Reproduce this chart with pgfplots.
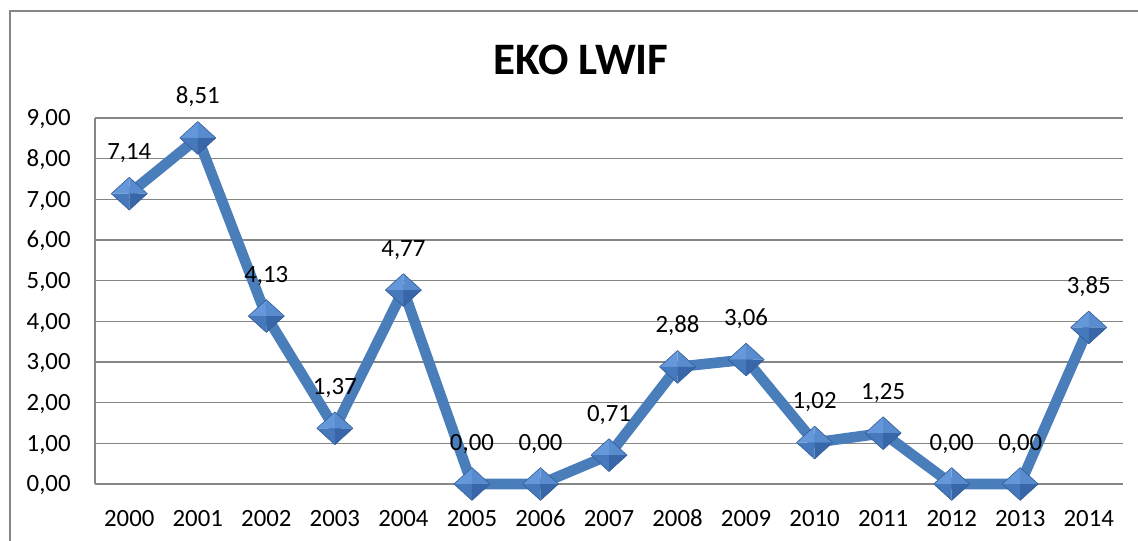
\documentclass[border=0pt]{standalone}
\usepackage{pgfplots}
\pgfplotsset{compat=1.18}
\usepackage{fontspec}
\setmainfont{Carlito}
\definecolor{lineblue}{RGB}{74,126,187}
\definecolor{gridgray}{RGB}{134,134,134}
\definecolor{facetTL}{RGB}{100,152,218}
\definecolor{facetTR}{RGB}{88,140,206}
\definecolor{facetBL}{RGB}{70,120,188}
\definecolor{facetBR}{RGB}{56,102,168}
\definecolor{edgeblue}{RGB}{50,92,150}
\pgfdeclareplotmark{bevdiamond}{%
  \pgfsetlinewidth{0.3pt}%
  \pgfpathmoveto{\pgfpointorigin}\pgfpathlineto{\pgfqpoint{-9pt}{0pt}}\pgfpathlineto{\pgfqpoint{0pt}{8.2pt}}\pgfpathclose
  \pgfsetfillcolor{facetTL}\pgfusepath{fill}%
  \pgfpathmoveto{\pgfpointorigin}\pgfpathlineto{\pgfqpoint{0pt}{8.2pt}}\pgfpathlineto{\pgfqpoint{9pt}{0pt}}\pgfpathclose
  \pgfsetfillcolor{facetTR}\pgfusepath{fill}%
  \pgfpathmoveto{\pgfpointorigin}\pgfpathlineto{\pgfqpoint{-9pt}{0pt}}\pgfpathlineto{\pgfqpoint{0pt}{-8.2pt}}\pgfpathclose
  \pgfsetfillcolor{facetBL}\pgfusepath{fill}%
  \pgfpathmoveto{\pgfpointorigin}\pgfpathlineto{\pgfqpoint{0pt}{-8.2pt}}\pgfpathlineto{\pgfqpoint{9pt}{0pt}}\pgfpathclose
  \pgfsetfillcolor{facetBR}\pgfusepath{fill}%
  \pgfpathmoveto{\pgfqpoint{-9pt}{0pt}}\pgfpathlineto{\pgfqpoint{0pt}{8.2pt}}\pgfpathlineto{\pgfqpoint{9pt}{0pt}}\pgfpathlineto{\pgfqpoint{0pt}{-8.2pt}}\pgfpathclose
  \pgfsetstrokecolor{edgeblue}\pgfusepath{stroke}%
}
\begin{document}
\begin{tikzpicture}
\useasboundingbox (0,0) rectangle (569pt,-270pt);
\draw[color=gridgray, line width=1pt] (5pt,-280pt) -- (5pt,-5.5pt) -- (580pt,-5.5pt);
\node[anchor=base, font=\fontsize{22.5}{27}\selectfont\bfseries] at (290.5pt,-37.5pt) {EKO LWIF};
\begin{axis}[
  at={(47.5pt,-242pt)}, anchor=south west,
  scale only axis, width=514pt, height=183pt,
  xmin=-0.5, xmax=14.5, ymin=0, ymax=9,
  xtick={0,...,14},
  xticklabels={2000,2001,2002,2003,2004,2005,2006,2007,2008,2009,2010,2011,2012,2013,2014},
  ytick={0,...,9},
  major tick length=0pt,
  axis lines*=left,
  axis line style={-, draw=gridgray, line width=0.6pt},
  ymajorgrids,
  major grid style={draw=gridgray, line width=0.6pt},
  /pgf/number format/assume math mode=true,
  /pgf/number format/.cd, fixed, fixed zerofill, precision=2, use comma, /pgfplots/.cd,
  tick label style={font=\fontsize{12.4}{14}\selectfont, text=black, inner sep=0pt},
  xticklabel style={anchor=base, yshift=-21pt},
  yticklabel style={anchor=base east, xshift=-12pt, yshift=-3.9pt},
  clip=false,
  nodes near coords,
  every node near coord/.append style={anchor=base, yshift=17pt, inner sep=0pt, text=black, font=\fontsize{12.4}{14}\selectfont},
]
\addplot[color=lineblue, line width=5.3pt, line join=round, mark=bevdiamond] coordinates {
(0,7.14) (1,8.51) (2,4.13) (3,1.37) (4,4.77) (5,0.00) (6,0.00) (7,0.71)
(8,2.88) (9,3.06) (10,1.02) (11,1.25) (12,0.00) (13,0.00) (14,3.85)
};
\end{axis}
\end{tikzpicture}
\end{document}
